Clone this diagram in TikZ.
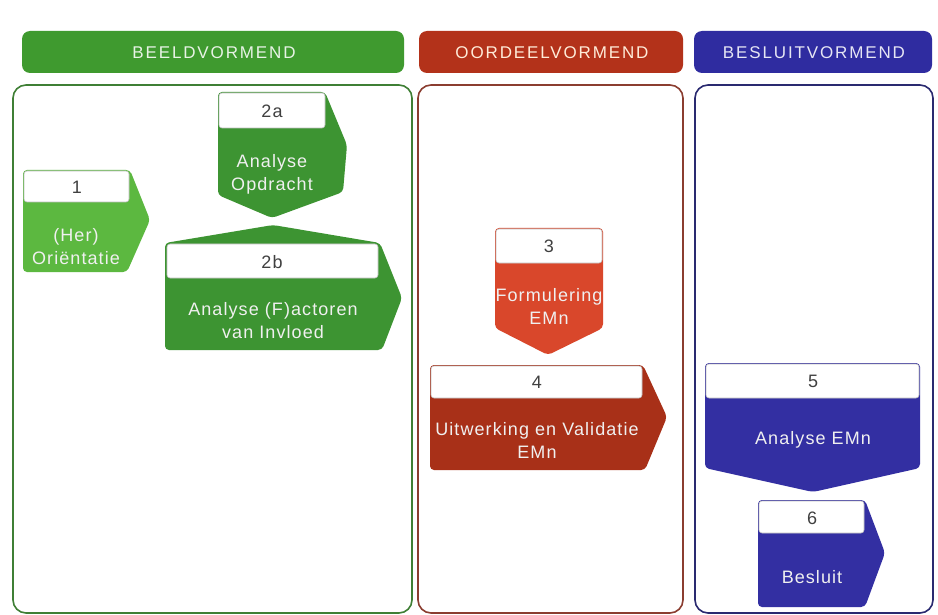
\documentclass[tikz,border=0pt]{standalone}
\usepackage{fontspec}
\setmainfont{Liberation Sans}
\newfontfamily\hdrfont[LetterSpace=11]{Liberation Sans}
\newfontfamily\shpfont[LetterSpace=6]{Liberation Sans}
\definecolor{hgreen}{HTML}{3F9A2F}
\definecolor{lgreen}{HTML}{5CB840}
\definecolor{sgreen}{HTML}{3D9432}
\definecolor{hred}{HTML}{B3321A}
\definecolor{ored}{HTML}{D9472B}
\definecolor{dred}{HTML}{A83018}
\definecolor{hblue}{HTML}{2F2CA0}
\definecolor{sblue}{HTML}{332FA2}
\definecolor{pgreen}{HTML}{3F7F35}
\definecolor{pred}{HTML}{8B3D30}
\definecolor{pblue}{HTML}{2A2A70}
\begin{document}
\begin{tikzpicture}[x=1pt,y=-1pt,
  hdr/.style={rounded corners=8pt},
  hdrtxt/.style={font=\hdrfont\fontsize{17}{20}\selectfont, inner sep=0pt},
  panel/.style={draw, line width=1.6pt, rounded corners=13pt, fill=white},
  shp/.style={rounded corners=4pt},
  lbl/.style={fill=white, draw=black!25, line width=0.6pt, rounded corners=3pt},
  num/.style={font=\shpfont\fontsize{18}{18}\selectfont, text=black!75, inner sep=0pt},
  txt/.style={font=\shpfont\fontsize{18}{23}\selectfont, text=white!94!black, align=center, inner sep=0pt}
]
\useasboundingbox[fill=white] (0,0) rectangle (938,615);

% headers
\path[hdr, fill=hgreen] (22,31) rectangle (404,73);
\node[hdrtxt, text=white!88!hgreen] (h1) at (214,53) {BEELDVORMEND};
\path[hdr, fill=hred] (419,31) rectangle (683,73);
\node[hdrtxt, text=white!85!orange] (h2) at (552,53) {OORDEELVORMEND};
\path[hdr, fill=hblue] (694,31) rectangle (932,73);
\node[hdrtxt, text=white!88!hblue] (h3) at (814,53) {BESLUITVORMEND};

% panels
\path[panel, draw=pgreen] (13,85) rectangle (412,613);
\path[panel, draw=pred] (418,85) rectangle (683,613);
\path[panel, draw=pblue] (695,85) rectangle (933,613);

% shape 1
\path[shp, fill=lgreen] (23,170) -- (130,170) -- (150,220) -- (127,272) -- (23,272) -- cycle;
\path[lbl] (24,171) rectangle (129,202);
\node[num] (n1) at (77,187) {1};
\node[txt] (t1) at (76,247) {(Her)\\Oriëntatie};

% shape 2a
\path[shp, fill=sgreen] (218,92) -- (325,92) -- (347,145) -- (343,192) -- (272,218) -- (218,195) -- cycle;
\path[lbl] (219,93) rectangle (325,128);
\node[num] (n2a) at (272,111) {2a};
\node[txt] (t2a) at (272,174) {Analyse\\Opdracht};

% shape 2b
\path[shp, fill=sgreen] (165,243) -- (273,225) -- (380,243) -- (402,298) -- (382,350) -- (165,350) -- cycle;
\path[lbl] (167,244) rectangle (378,278);
\node[num] (n2b) at (272,262) {2b};
\node[txt] (t2b) at (273,321) {Analyse (F)actoren\\van Invloed};

% shape 3
\path[shp, fill=ored] (495,228) -- (603,228) -- (603,328) -- (548,355) -- (495,328) -- cycle;
\path[lbl] (496,229) rectangle (602,263);
\node[num] (n3) at (549,246) {3};
\node[txt] (t3) at (549,306) {Formulering\\EMn};

% shape 4
\path[shp, fill=dred] (430,365) -- (643,365) -- (667,417) -- (645,470) -- (430,470) -- cycle;
\path[lbl] (431,366) rectangle (642,398);
\node[num] (n4) at (537,382) {4};
\node[txt] (t4) at (537,440) {Uitwerking en Validatie\\EMn};

% shape 5
\path[shp, fill=sblue] (705,363) -- (920,363) -- (920,468) -- (813,492) -- (705,468) -- cycle;
\path[lbl] (706,364) rectangle (919,398);
\node[num] (n5) at (813,381) {5};
\node[txt] (t5) at (813,440) {Analyse EMn};

% shape 6
\path[shp, fill=sblue] (758,500) -- (865,500) -- (885,553) -- (865,607) -- (758,607) -- cycle;
\path[lbl] (759,501) rectangle (864,533);
\node[num] (n6) at (812,518) {6};
\node[txt] (t6) at (812,577) {Besluit};
\end{tikzpicture}
\end{document}
